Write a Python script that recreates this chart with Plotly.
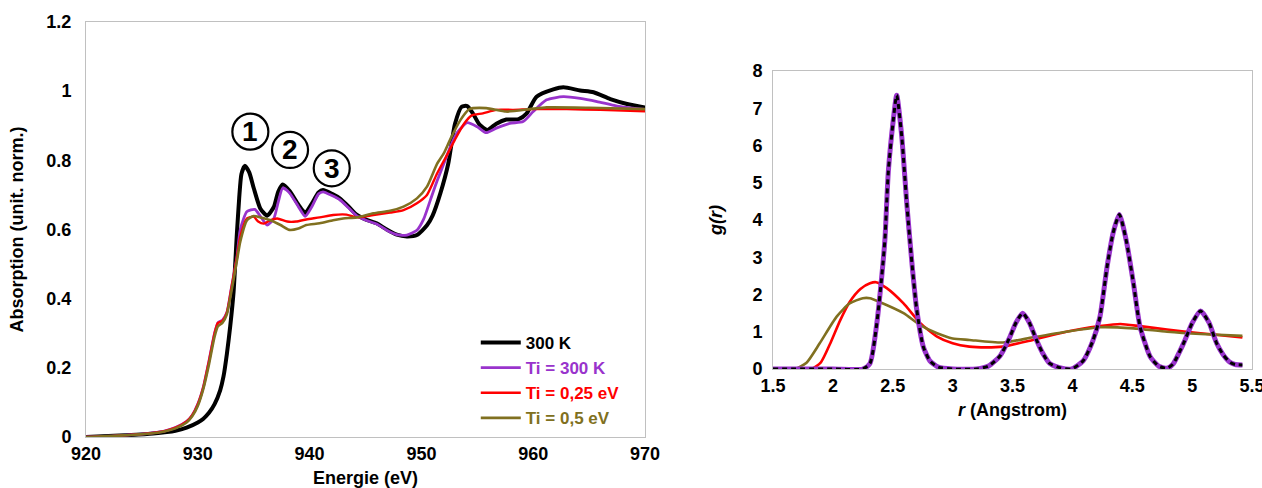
import plotly.graph_objects as go

# ---------------- Left panel: XAS spectra ----------------
E_300K = [920, 923, 926, 928, 929, 930, 930.5, 931, 931.5, 932, 932.3, 932.6, 932.9, 933.2, 933.5, 933.7,
          933.9, 934.2, 934.6, 935.0, 935.6, 936.2, 936.8, 937.2, 937.6, 938.2, 939.0, 939.6, 940.2, 940.8,
          941.2, 942.0, 942.7, 943.5, 944.2, 945.1, 946.0, 946.9, 947.8, 948.7, 949.6, 950.5, 951.0, 951.7,
          952.4, 953.0, 953.6, 954.1, 954.6, 955.2, 955.9, 956.7, 957.6, 958.7, 959.4, 960.3, 961.8, 962.7,
          964.2, 965.4, 966.9, 968.4, 970]
A_300K = [0.0, 0.004, 0.01, 0.018, 0.027, 0.042, 0.053, 0.07, 0.095, 0.135, 0.175, 0.24, 0.32, 0.42, 0.59, 0.69,
          0.76, 0.784, 0.765, 0.72, 0.66, 0.64, 0.665, 0.71, 0.73, 0.712, 0.672, 0.648, 0.675, 0.707,
          0.714, 0.703, 0.69, 0.666, 0.643, 0.628, 0.618, 0.600, 0.585, 0.58, 0.584, 0.612, 0.64, 0.705,
          0.79, 0.905, 0.955, 0.957, 0.936, 0.903, 0.888, 0.906, 0.918, 0.919, 0.935, 0.984, 1.005, 1.011,
          1.002, 0.997, 0.977, 0.963, 0.953]

E_ti300 = [920, 923, 926, 927, 928, 929, 929.5, 930, 930.5, 931, 931.5, 931.8, 932.2, 932.6, 933.0, 933.5,
           933.8, 934.4, 935.1, 935.6, 936.2, 936.8, 937.2, 937.6, 938.2, 939.0, 939.6, 940.2, 940.8, 941.2,
           942.0, 942.7, 943.5, 944.2, 945.1, 946.0, 946.9, 947.8, 948.7, 949.6, 950.2, 950.8, 951.4, 952.0,
           952.6, 953.2, 954.1, 955.0, 955.8, 956.7, 957.9, 959.1, 960.0, 961.2, 962.7, 964.2, 965.7, 967.5, 970]
A_ti300 = [0.0, 0.004, 0.012, 0.017, 0.027, 0.045, 0.063, 0.095, 0.145, 0.22, 0.30, 0.33, 0.338, 0.36, 0.43, 0.52,
           0.6, 0.652, 0.658, 0.638, 0.613, 0.632, 0.68, 0.72, 0.706, 0.666, 0.638, 0.666, 0.703, 0.709,
           0.698, 0.686, 0.662, 0.64, 0.626, 0.616, 0.598, 0.585, 0.584, 0.598, 0.63, 0.685, 0.74, 0.79,
           0.84, 0.88, 0.909, 0.897, 0.88, 0.893, 0.907, 0.912, 0.941, 0.975, 0.984, 0.979, 0.97, 0.957, 0.947]

E_ti025 = [920, 923, 926, 927, 928, 929, 929.5, 930, 930.5, 931, 931.5, 931.8, 932.2, 932.6, 933.0, 933.5,
           933.8, 934.4, 935.0, 935.4, 935.9, 936.5, 937.1, 938.0, 938.8, 939.7, 940.9, 942.1, 943.3, 944.2,
           945.7, 947.2, 948.4, 949.6, 950.5, 951.4, 952.2, 953.0, 953.8, 954.5, 955.5, 956.7, 958.2, 960,
           963, 966, 970]
A_ti025 = [0.0, 0.004, 0.012, 0.017, 0.027, 0.045, 0.063, 0.095, 0.145, 0.22, 0.30, 0.33, 0.336, 0.36, 0.43, 0.52,
           0.579, 0.632, 0.637, 0.623, 0.617, 0.627, 0.632, 0.623, 0.623, 0.629, 0.635, 0.642, 0.643, 0.635,
           0.642, 0.649, 0.656, 0.676, 0.70, 0.762, 0.81, 0.86, 0.905, 0.93, 0.936, 0.946, 0.946, 0.948,
           0.948, 0.946, 0.942]

E_ti05 = [920, 923, 926, 927, 928, 929, 929.5, 930, 930.5, 931, 931.5, 931.8, 932.2, 932.6, 933.0, 933.5,
          933.8, 934.4, 935.0, 935.6, 936.5, 937.4, 938.2, 939.0, 939.7, 940.9, 942.1, 943.0, 944.2, 945.7,
          947.2, 948.4, 949.6, 950.5, 951.4, 952.0, 952.6, 953.5, 954.3, 955.8, 957.6, 959.7, 961.2, 965, 970]
A_ti05 = [0.0, 0.004, 0.011, 0.016, 0.025, 0.042, 0.06, 0.09, 0.14, 0.21, 0.29, 0.32, 0.33, 0.355, 0.42, 0.51,
          0.565, 0.627, 0.639, 0.635, 0.627, 0.613, 0.599, 0.603, 0.613, 0.618, 0.627, 0.632, 0.635, 0.647,
          0.654, 0.666, 0.69, 0.724, 0.79, 0.82, 0.862, 0.917, 0.948, 0.951, 0.941, 0.948, 0.953, 0.952, 0.948]

# ---------------- Right panel: g(r) ----------------
r_300K = [1.5, 2.0, 2.25, 2.31, 2.366, 2.41, 2.435, 2.463, 2.505, 2.533, 2.575, 2.617, 2.66, 2.70, 2.755,
          2.81, 2.88, 3.0, 3.2, 3.3, 3.396, 3.47, 3.53, 3.585, 3.64, 3.70, 3.76, 3.81, 3.9, 3.994, 4.09,
          4.17, 4.23, 4.29, 4.34, 4.392, 4.45, 4.51, 4.565, 4.65, 4.72, 4.79, 4.84, 4.93, 5.0, 5.07, 5.14,
          5.205, 5.26, 5.316, 5.36, 5.42]
g_300K = [0, 0, 0.0, 0.15, 1.2, 2.55, 3.5, 5.3, 6.7, 7.35, 6.25, 4.45, 2.85, 1.6, 0.6,
          0.22, 0.05, 0.0, 0.0, 0.08, 0.35, 0.8, 1.25, 1.5, 1.25, 0.78, 0.38, 0.15, 0.03, 0.0, 0.22,
          0.75, 1.4, 2.75, 3.65, 4.15, 3.45, 2.3, 1.14, 0.33, 0.08, 0.02, 0.13, 0.7, 1.23, 1.56, 1.25,
          0.69, 0.38, 0.18, 0.12, 0.11]

r_ti025 = [1.5, 1.82, 1.9, 1.98, 2.06, 2.14, 2.23, 2.31, 2.36, 2.45, 2.59, 2.73, 2.87, 3.0, 3.14, 3.28, 3.42,
           3.67, 3.95, 4.23, 4.40, 4.565, 4.79, 5.07, 5.42]
g_ti025 = [0, 0, 0.18, 0.7, 1.3, 1.8, 2.15, 2.3, 2.33, 2.17, 1.76, 1.23, 0.87, 0.69, 0.6, 0.58, 0.6,
           0.78, 1.0, 1.15, 1.21, 1.15, 1.06, 0.96, 0.85]

r_ti05 = [1.5, 1.68, 1.78, 1.89, 2.03, 2.14, 2.25, 2.31, 2.39, 2.59, 2.73, 2.87, 3.0, 3.14, 3.42, 3.67,
          3.95, 4.23, 4.51, 4.79, 5.07, 5.42]
g_ti05 = [0, 0, 0.17, 0.69, 1.4, 1.76, 1.9, 1.9, 1.8, 1.5, 1.18, 0.96, 0.82, 0.78, 0.71, 0.85,
          1.0, 1.12, 1.09, 1.0, 0.94, 0.89]

names = ["300 K", "Ti = 300 K", "Ti = 0,25 eV", "Ti = 0,5 eV"]
colors = ["#000000", "#9933cc", "#ff0000", "#807020"]

peak_labels = ["1", "2", "3"]
peak_E = [934.7, 938.25, 941.98]
peak_A = [0.883, 0.83, 0.777]

FONT = "Liberation Sans, Arial, sans-serif"

fig = go.Figure()

left = [(E_300K, A_300K, 4), (E_ti300, A_ti300, 2.8), (E_ti025, A_ti025, 2.4), (E_ti05, A_ti05, 2.6)]
for (x, y, w), n, c in zip(left, names, colors):
    fig.add_trace(go.Scatter(
        x=x, y=y, mode="lines", line=dict(color=c, width=w, shape="spline", smoothing=0.6),
        name=f"<span style='color:{c}'>{n}</span>", xaxis="x", yaxis="y"))

# right panel: red & olive, then purple solid underneath, black dashed on top
fig.add_trace(go.Scatter(x=r_ti025, y=g_ti025, mode="lines", showlegend=False,
                         line=dict(color=colors[2], width=2.6, shape="spline", smoothing=0.6),
                         xaxis="x2", yaxis="y2"))
fig.add_trace(go.Scatter(x=r_ti05, y=g_ti05, mode="lines", showlegend=False,
                         line=dict(color=colors[3], width=2.6, shape="spline", smoothing=0.6),
                         xaxis="x2", yaxis="y2"))
fig.add_trace(go.Scatter(x=r_300K, y=g_300K, mode="lines", showlegend=False,
                         line=dict(color=colors[1], width=5, shape="spline", smoothing=0.6),
                         xaxis="x2", yaxis="y2"))
fig.add_trace(go.Scatter(x=r_300K, y=g_300K, mode="lines", showlegend=False,
                         line=dict(color=colors[0], width=3, dash="5px,4px", shape="spline", smoothing=0.6),
                         xaxis="x2", yaxis="y2"))

W, H = 1262, 488
tickf = dict(family=FONT, size=18, color="#000000", weight="bold")
titf = dict(family=FONT, size=18, color="#000000", weight="bold")
axcommon = dict(showgrid=False, zeroline=False, showline=True, mirror=True, linecolor="#c0c0c0",
                linewidth=1, ticks="", tickfont=tickf, automargin=False, ticklabeloverflow="allow")

fig.update_layout(
    width=W, height=H, margin=dict(l=0, r=0, t=0, b=0),
    paper_bgcolor="white", plot_bgcolor="white",
    font=dict(family=FONT),
    xaxis=dict(domain=[86 / W, 645 / W], range=[920, 970], dtick=10, anchor="y",
               title=dict(text="Energie (eV)", font=titf, standoff=14), ticklabelstandoff=0, **axcommon),
    yaxis=dict(domain=[(H - 437) / H, (H - 22) / H], range=[0, 1.2], dtick=0.2, anchor="x",
               title=dict(text="Absorption (unit. norm.)", font=titf, standoff=18), ticklabelstandoff=10,
               **axcommon),
    xaxis2=dict(domain=[773 / W, 1252 / W], range=[1.5, 5.5], dtick=0.5, anchor="y2",
                title=dict(text="<i>r</i> (Angstrom)", font=titf, standoff=8), ticklabelstandoff=0,
                **axcommon),
    yaxis2=dict(domain=[(H - 369) / H, (H - 71) / H], range=[0, 8], dtick=1, anchor="x2",
                title=dict(text="<i>g(r)</i>", font=titf, standoff=25), ticklabelstandoff=6, **axcommon),
    legend=dict(x=0.377, y=0.334, xanchor="left", yanchor="top", bgcolor="rgba(0,0,0,0)",
                font=dict(family=FONT, size=17, weight="bold"), tracegroupgap=0, itemwidth=40),
    showlegend=True,
)

for lab, ex, ay in zip(peak_labels, peak_E, peak_A):
    fig.add_shape(type="circle", xref="x", yref="y", xsizemode="pixel", ysizemode="pixel",
                  xanchor=ex, yanchor=ay, x0=-18, x1=18, y0=-18, y1=18,
                  line=dict(color="black", width=2.2))
    fig.add_annotation(x=ex, y=ay, xref="x", yref="y", text=lab, showarrow=False,
                       font=dict(family=FONT, size=28, color="black", weight="bold"),
                       xanchor="center", yanchor="middle")

fig.write_html("out.html", config={"displayModeBar": False},
               post_script="document.body.style.margin='0px';")
